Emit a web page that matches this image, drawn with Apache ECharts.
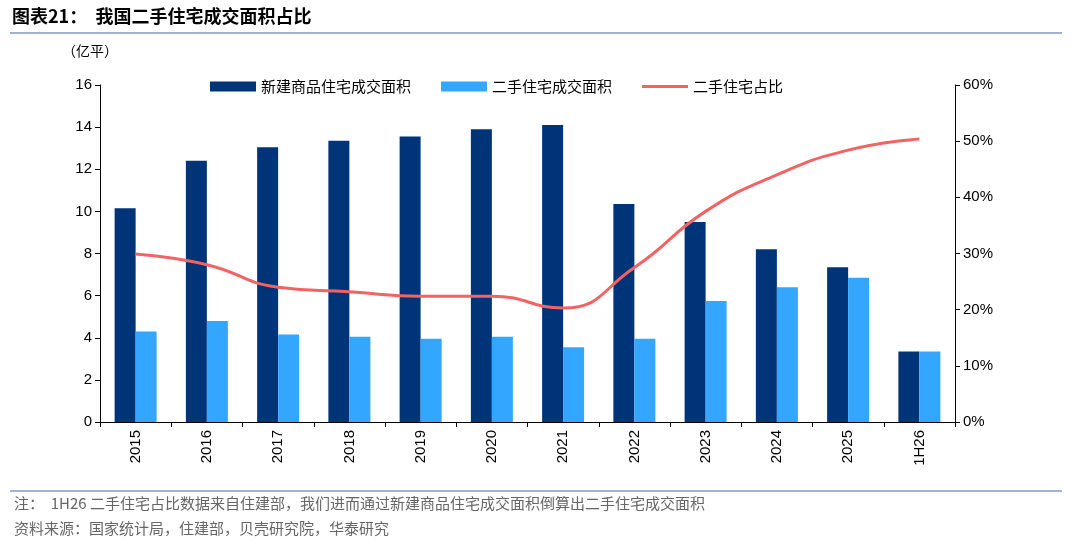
<!DOCTYPE html>
<html><head><meta charset="utf-8">
<script src="https://cdn.jsdelivr.net/npm/echarts@6/dist/echarts.min.js"></script>
<style>body{margin:0;background:#fff}#c{width:1080px;height:549px}</style>
</head><body><div id="c"></div>
<script>
var years = ["2015","2016","2017","2018","2019","2020","2021","2022","2023","2024","2025","1H26"];
var newArea = [10.15,12.4,13.05,13.35,13.55,13.9,14.1,10.35,9.5,8.2,7.35,3.35];
var usedArea = [4.3,4.8,4.15,4.05,3.95,4.05,3.55,3.95,5.75,6.4,6.85,3.35];
var usedShare = [29.9,28.0,24.0,23.2,22.4,22.4,20.3,27.5,37.5,44.0,48.4,50.4];
var font = "'Noto Sans CJK SC', sans-serif";
var chart = echarts.init(document.getElementById("c"));
chart.setOption({
    animation: false,
    textStyle: {fontFamily: font},
    graphic: [
        {type: "text", left: 12, top: 7, style: {text: "图表21：  我国二手住宅成交面积占比", font: "bold 18px " + font, fill: "#000"}},
        {type: "line", shape: {x1: 10, y1: 33, x2: 1062, y2: 33}, style: {stroke: "#7f9bc4", lineWidth: 1.5}},
        {type: "text", left: 62, top: 44, style: {text: "（亿平）", font: "14px " + font, fill: "#000"}},
        {type: "line", shape: {x1: 10, y1: 491, x2: 1062, y2: 491}, style: {stroke: "#7f9bc4", lineWidth: 1.5}},
        {type: "text", left: 14, top: 496, style: {text: "注：  1H26 二手住宅占比数据来自住建部，我们进而通过新建商品住宅成交面积倒算出二手住宅成交面积", font: "15px " + font, fill: "#666"}},
        {type: "text", left: 14, top: 521, style: {text: "资料来源：国家统计局，住建部，贝壳研究院，华泰研究", font: "15px " + font, fill: "#666"}}
    ],
    legend: {
        top: 74, left: 205, itemGap: 30, itemWidth: 46, itemHeight: 10,
        textStyle: {fontSize: 15, color: "#000", fontFamily: font},
        data: [{name: "新建商品住宅成交面积", icon: "rect"}, {name: "二手住宅成交面积", icon: "rect"},
               {name: "二手住宅占比", icon: "path://M0,0 L46,0 L46,3 L0,3 Z", itemStyle: {color: "#f26464"}}]
    },
    grid: {left: 100, right: 125, top: 85, bottom: 127},
    xAxis: {
        type: "category", data: years,
        axisLine: {lineStyle: {color: "#000"}},
        axisTick: {show: true, length: 5, lineStyle: {color: "#000"}},
        axisLabel: {rotate: 90, fontSize: 15, color: "#000", fontFamily: "Liberation Sans, Arial"}
    },
    yAxis: [
        {type: "value", min: 0, max: 16, interval: 2, splitLine: {show: false},
         axisLine: {show: true, lineStyle: {color: "#000"}}, axisTick: {show: true, lineStyle: {color: "#000"}},
         axisLabel: {fontSize: 15, color: "#000", fontFamily: "Liberation Sans, Arial"}},
        {type: "value", min: 0, max: 60, interval: 10, splitLine: {show: false},
         axisLine: {show: true, lineStyle: {color: "#000"}}, axisTick: {show: true, lineStyle: {color: "#000"}},
         axisLabel: {fontSize: 15, color: "#000", formatter: "{value}%", fontFamily: "Liberation Sans, Arial"}}
    ],
    series: [
        {name: "新建商品住宅成交面积", type: "bar", data: newArea, barWidth: 21, barGap: "0%", itemStyle: {color: "#003478"}},
        {name: "二手住宅成交面积", type: "bar", data: usedArea, barWidth: 21, itemStyle: {color: "#33a6ff"}},
        {name: "二手住宅占比", type: "line", yAxisIndex: 1, data: usedShare, smooth: true, symbol: "none",
         lineStyle: {color: "#f26464", width: 3}, itemStyle: {color: "#f26464"}}
    ]
});
</script></body></html>
